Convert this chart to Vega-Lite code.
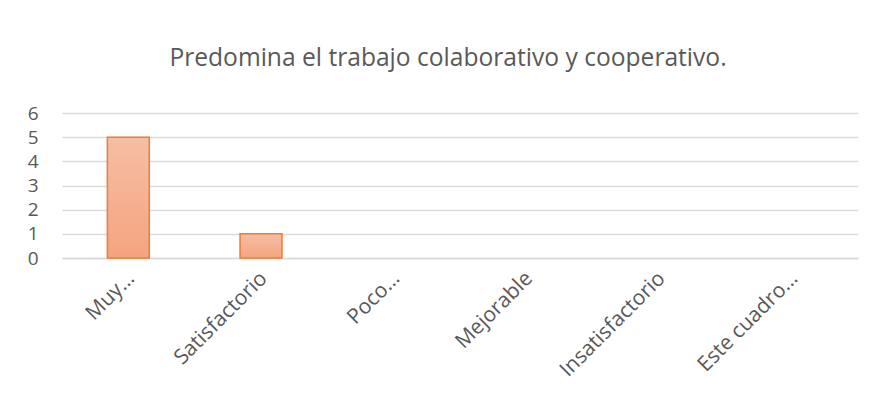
{
  "$schema": "https://vega.github.io/schema/vega-lite/v6.json",
  "autosize": "none",
  "width": 796,
  "height": 145,
  "padding": {"left": 62, "top": 113, "right": 16, "bottom": 149},
  "background": "white",
  "title": {
    "text": "Predomina el trabajo colaborativo y cooperativo.",
    "font": "Open Sans",
    "fontSize": 24.6,
    "fontWeight": "normal",
    "color": "#595959",
    "anchor": "middle",
    "baseline": "alphabetic",
    "offset": 13,
    "dx": -12
  },
  "data": {
    "values": [
      {"categoria": "Muy…", "valor": 5},
      {"categoria": "Satisfactorio", "valor": 1},
      {"categoria": "Poco…", "valor": 0},
      {"categoria": "Mejorable", "valor": 0},
      {"categoria": "Insatisfactorio", "valor": 0},
      {"categoria": "Este cuadro…", "valor": 0}
    ]
  },
  "mark": {
    "type": "bar",
    "fill": {
      "gradient": "linear",
      "x1": 0, "y1": 0, "x2": 0, "y2": 1,
      "stops": [
        {"offset": 0, "color": "#F6BEA5"},
        {"offset": 1, "color": "#F4A47F"}
      ]
    },
    "stroke": "#ED7D31",
    "strokeWidth": 1.5
  },
  "encoding": {
    "x": {
      "field": "categoria",
      "type": "nominal",
      "sort": null,
      "title": null,
      "scale": {"paddingInner": 0.684, "paddingOuter": 0.342},
      "axis": {
        "labelAngle": -45,
        "labelAlign": "right",
        "labelBaseline": "middle",
        "labelPadding": 17,
        "labelOffset": 3,
        "labelFont": "Open Sans",
        "labelFontSize": 21,
        "labelColor": "#595959",
        "labelLimit": 300,
        "ticks": false,
        "domainColor": "#D9D9D9",
        "domainWidth": 1.5,
        "grid": false
      }
    },
    "y": {
      "field": "valor",
      "type": "quantitative",
      "title": null,
      "scale": {"domain": [0, 6], "nice": false},
      "axis": {
        "values": [0, 1, 2, 3, 4, 5, 6],
        "labelFont": "Open Sans",
        "labelFontSize": 19,
        "labelColor": "#595959",
        "labelPadding": 24,
        "ticks": false,
        "domain": false,
        "gridColor": "#D9D9D9",
        "gridWidth": 1.3
      }
    },
    "strokeOpacity": {
      "condition": {"test": "datum.valor > 0", "value": 1},
      "value": 0
    }
  },
  "config": {
    "view": {"stroke": null}
  }
}
